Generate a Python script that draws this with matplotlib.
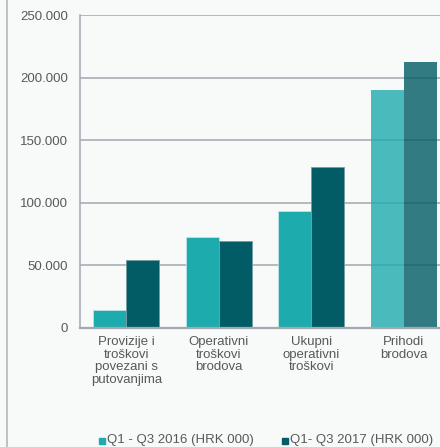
import matplotlib
matplotlib.use('Agg')
import matplotlib.pyplot as plt
from matplotlib.lines import Line2D
from matplotlib.patches import Rectangle
import numpy as np

# Data
categories = ['Provizije i\ntroškovi\npovezani s\nputovanjima',
              'Operativni\ntroškovi\nbrodova',
              'Ukupni\noperativni\ntroškovi',
              'Prihodi\nbrodova']
q3_2016 = [14400, 72700, 93400, 190100]
q3_2017 = [54300, 69200, 128300, 212400]
series_names = ['Q1 - Q3 2016 (HRK 000)', 'Q1- Q3 2017 (HRK 000)']
yticks = [0, 50000, 100000, 150000, 200000, 250000]
ytick_labels = ['0', '50.000', '100.000', '150.000', '200.000', '250.000']

light = '#1eabad'
dark = '#025c66'
txt = '#595959'
bg = '#f8f9f9'

plt.rcParams['font.family'] = ['Liberation Sans', 'DejaVu Sans']

fig = plt.figure(figsize=(4.4, 4.47), dpi=100, facecolor=bg)
# axes extends a little past the right edge, like the reference
ax = fig.add_axes([80 / 440, (447 - 328) / 447, 370 / 440, 313 / 447])
ax.set_facecolor(bg)

x = np.arange(len(categories))
w = 0.357
for i in range(len(categories)):
    a = 0.8 if i == 3 else 1.0
    ax.bar(x[i] - w / 2, q3_2016[i], w, color=light, alpha=a, zorder=3,
           edgecolor='#bfe3e4' if i < 3 else 'none', linewidth=0.6)
    ax.bar(x[i] + w / 2, q3_2017[i], w, color=dark, alpha=a, zorder=3,
           edgecolor='#6f9ea3' if i < 3 else 'none', linewidth=0.6)

ax.set_xlim(-0.5, 3.5)
ax.set_ylim(0, 250000)
ax.set_yticks(yticks)
ax.set_yticklabels(ytick_labels, color=txt, fontsize=9.5)
ax.set_xticks(x)
ax.set_xticklabels(categories, color=txt, fontsize=9.5, linespacing=1.05)
ax.tick_params(axis='y', length=0, pad=8.5)
ax.tick_params(axis='x', length=0, pad=6)
ax.grid(axis='y', color='#a3a8b0', linewidth=1.1, zorder=1)
ax.set_axisbelow(True)
for s in ['top', 'right']:
    ax.spines[s].set_visible(False)
ax.spines['left'].set_color('#a3a8b0')
ax.spines['left'].set_linewidth(1.1)
ax.spines['bottom'].set_color('#a3a8b0')
ax.spines['bottom'].set_linewidth(1.6)
ax.spines['bottom'].set_zorder(4)

# left border line of the slide
fig.add_artist(Line2D([7 / 440, 7 / 440], [0, 1], color='#b8b8b8', linewidth=1.2))

# legend
ly = 1 - 440.5 / 447
for sx, tx, col, name in [(98.5, 107, light, series_names[0]),
                          (281.5, 290, dark, series_names[1])]:
    fig.add_artist(Rectangle((sx / 440, ly - 3 / 447), 6 / 440, 6 / 447,
                             transform=fig.transFigure, color=col))
    fig.text(tx / 440, ly, name, color=txt, fontsize=9.5, va='center')

fig.savefig('out.png', dpi=100, facecolor=bg)
